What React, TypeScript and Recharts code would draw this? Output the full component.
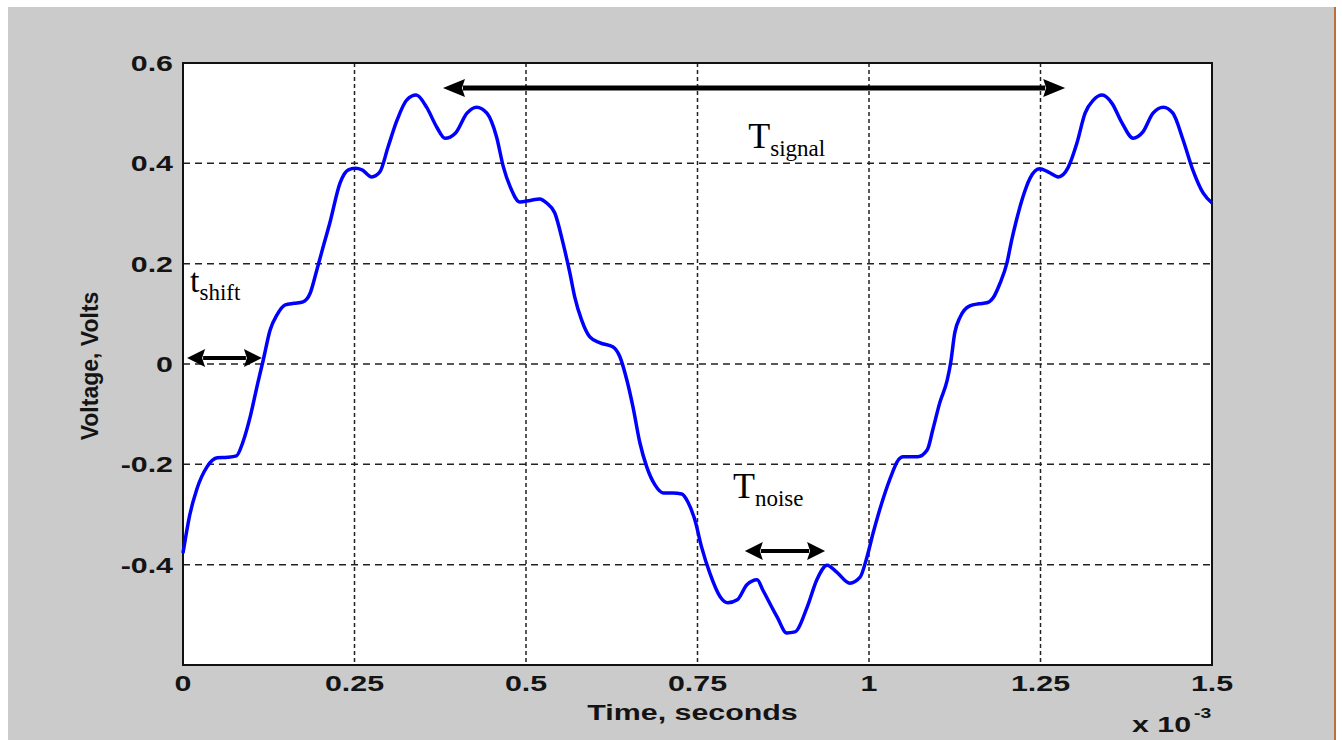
/**
 * NoisySignalChart — voltage vs time (x 10^-3 s) with signal/noise period annotations.
 * MATLAB-style plot: grey frame, white box, dashed grid, bold stretched tick labels.
 */
import {
  LineChart,
  Line,
  XAxis,
  YAxis,
  CartesianGrid,
  ReferenceArea,
  ReferenceLine,
  ReferenceDot,
  Label,
} from "recharts";

// ─── Data ─────────────────────────────────────────────────────────────────────

// time in units of 10^-3 s
const timeMs = [
  0.0, 0.01, 0.02, 0.035, 0.05, 0.065, 0.078, 0.087, 0.098, 0.109, 0.117, 0.127,
  0.137, 0.149, 0.162, 0.175, 0.185, 0.195, 0.203, 0.214, 0.229, 0.241, 0.251,
  0.261, 0.275, 0.287, 0.299, 0.312, 0.326, 0.34, 0.355, 0.37, 0.382, 0.397,
  0.414, 0.428, 0.443, 0.457, 0.467, 0.477, 0.491, 0.506, 0.52, 0.53, 0.542,
  0.554, 0.564, 0.571, 0.581, 0.593, 0.608, 0.627, 0.637, 0.647, 0.656, 0.666,
  0.676, 0.688, 0.7, 0.714, 0.727, 0.736, 0.746, 0.756, 0.768, 0.783, 0.794,
  0.808, 0.822, 0.837, 0.845, 0.866, 0.88, 0.892, 0.91, 0.924, 0.939, 0.953,
  0.972, 0.987, 0.997, 1.006, 1.02, 1.034, 1.041, 1.05, 1.071, 1.085, 1.093,
  1.103, 1.114, 1.119, 1.125, 1.133, 1.147, 1.16, 1.172, 1.181, 1.191, 1.201,
  1.208, 1.215, 1.223, 1.235, 1.249, 1.261, 1.276, 1.29, 1.303, 1.315, 1.327,
  1.34, 1.354, 1.369, 1.385, 1.399, 1.414, 1.429, 1.443, 1.458, 1.472, 1.487, 1.5,
];

const voltage = [
  -0.377, -0.3, -0.25, -0.205, -0.187, -0.186, -0.183, -0.157, -0.105, -0.038,
  0.008, 0.068, 0.098, 0.118, 0.121, 0.124, 0.14, 0.187, 0.227, 0.281, 0.361,
  0.387, 0.39, 0.387, 0.373, 0.383, 0.433, 0.486, 0.526, 0.536, 0.512, 0.472,
  0.45, 0.46, 0.5, 0.512, 0.5, 0.453, 0.393, 0.353, 0.323, 0.326, 0.329, 0.321,
  0.301, 0.241, 0.181, 0.134, 0.088, 0.054, 0.042, 0.034, 0.014, -0.032, -0.086,
  -0.157, -0.205, -0.241, -0.257, -0.257, -0.259, -0.275, -0.31, -0.365,
  -0.417, -0.464, -0.476, -0.47, -0.44, -0.43, -0.45, -0.504, -0.536, -0.534,
  -0.484, -0.43, -0.401, -0.415, -0.437, -0.425, -0.385, -0.337, -0.271,
  -0.217, -0.195, -0.185, -0.185, -0.171, -0.131, -0.078, -0.032, 0.002, 0.062,
  0.094, 0.116, 0.12, 0.122, 0.132, 0.161, 0.201, 0.247, 0.287, 0.327, 0.371,
  0.389, 0.383, 0.373, 0.391, 0.44, 0.5, 0.526, 0.536, 0.52, 0.48, 0.45, 0.462,
  0.5, 0.512, 0.5, 0.446, 0.387, 0.341, 0.321,
];

const xTicks = [0, 0.25, 0.5, 0.75, 1, 1.25, 1.5];
const yTicks = [-0.6, -0.4, -0.2, 0, 0.2, 0.4, 0.6];
const yTickLabels = ["", "-0.4", "-0.2", "0", "0.2", "0.4", "0.6"];

// double-headed arrows (data coords)
const arrows = [
  { id: "signal", x1: 0.379, x2: 1.286, y: 0.55, w: 5, head: 22, half: 9 },
  { id: "shift", x1: 0.006, x2: 0.115, y: 0.012, w: 4, head: 18, half: 9 },
  { id: "noise", x1: 0.819, x2: 0.936, y: -0.373, w: 4, head: 18, half: 9 },
];

// annotation texts (left/baseline of main letter, data coords)
const notes = [
  { id: "signal", main: "T", sub: "signal", x: 0.824, y: 0.4305, size: 36 },
  { id: "shift", main: "t", sub: "shift", x: 0.0102, y: 0.1435, size: 34 },
  { id: "noise", main: "T", sub: "noise", x: 0.8017, y: -0.267, size: 36 },
];

const chartData = timeMs.map((t, i) => ({ t, v: voltage[i] }));

// ─── Styling helpers ──────────────────────────────────────────────────────────

const SANS = "'Liberation Sans', Arial, sans-serif";
const SERIF = "'Liberation Serif', 'Times New Roman', serif";
const INK = "#141414";
const STRETCH = 1.38;

function XTick({ x, y, payload }: { x?: number; y?: number; payload?: { value: number } }) {
  return (
    <text
      transform={`translate(${x},${(y ?? 0) + 26}) scale(${STRETCH},1)`}
      textAnchor="middle"
      fontFamily={SANS}
      fontWeight="bold"
      fontSize={22}
      fill={INK}
    >
      {String(payload?.value)}
    </text>
  );
}

function YTick({ x, y, payload }: { x?: number; y?: number; payload?: { value: number } }) {
  const i = yTicks.indexOf(payload?.value as number);
  return (
    <text
      transform={`translate(${x},${(y ?? 0) + 8}) scale(${STRETCH},1)`}
      textAnchor="end"
      fontFamily={SANS}
      fontWeight="bold"
      fontSize={22}
      fill={INK}
    >
      {yTickLabels[i]}
    </text>
  );
}

function XTitle(props: any) {
  const vb = props.viewBox ?? { x: 0, y: 0, width: 0, height: 0 };
  const cx = vb.x + vb.width / 2 - 5;
  const right = vb.x + vb.width;
  return (
    <g fontFamily={SANS} fontWeight="bold" fill={INK}>
      <text transform={`translate(${cx},${vb.y + 55}) scale(${STRETCH},1)`} textAnchor="middle" fontSize={22}>
        Time, seconds
      </text>
      <text transform={`translate(${right - 80},${vb.y + 67}) scale(${STRETCH},1)`} fontSize={22}>
        x 10
      </text>
      <text transform={`translate(${right - 18},${vb.y + 53}) scale(${STRETCH},1)`} fontSize={14}>
        -3
      </text>
    </g>
  );
}

function YTitle(props: any) {
  const vb = props.viewBox ?? { x: 0, y: 0, width: 0, height: 0 };
  const cx = vb.x - 3;
  const cy = vb.y + vb.height / 2 + 2;
  return (
    <text
      transform={`translate(${cx},${cy}) rotate(-90)`}
      textAnchor="middle"
      dominantBaseline="central"
      fontFamily={SANS}
      fontWeight="bold"
      fontSize={23}
      fill={INK}
    >
      Voltage, Volts
    </text>
  );
}

function Arrow(props: any) {
  const { x1, x2, y1, w, head, half } = props;
  const y = y1;
  return (
    <g>
      <line x1={x1 + head - 2} y1={y} x2={x2 - head + 2} y2={y} stroke="#000" strokeWidth={w} />
      <polygon points={`${x1},${y} ${x1 + head},${y - half} ${x1 + head - 3},${y} ${x1 + head},${y + half}`} fill="#000" />
      <polygon points={`${x2},${y} ${x2 - head},${y - half} ${x2 - head + 3},${y} ${x2 - head},${y + half}`} fill="#000" />
    </g>
  );
}

function Note(props: any) {
  const { cx, cy, main, sub, size } = props;
  return (
    <text x={cx} y={cy} fontFamily={SERIF} fontSize={size} fill="#000">
      {main}
      <tspan fontSize={23} dy={8}>
        {sub}
      </tspan>
    </text>
  );
}

// ─── Component ────────────────────────────────────────────────────────────────

export default function App() {
  return (
    <div
      style={{
        position: "fixed",
        left: 8,
        top: 7,
        width: 1326,
        height: 733,
        background: "#cbcbcb",
        borderRight: "2px solid #b8703e",
      }}
    >
      <LineChart
        width={1326}
        height={733}
        data={chartData}
        margin={{ top: 56, right: 122, bottom: 35, left: 85 }}
      >
        <CartesianGrid
          fill="#ffffff"
          horizontal
          vertical={false}
          stroke="#222"
          strokeWidth={1.5}
          strokeDasharray="7 5"
        />
        <CartesianGrid
          horizontal={false}
          vertical
          stroke="#222"
          strokeWidth={1.5}
          strokeDasharray="4 3"
        />
        <XAxis
          dataKey="t"
          type="number"
          domain={[0, 1.5]}
          ticks={xTicks}
          axisLine={false}
          tickLine={false}
          tickSize={0}
          tickMargin={0}
          height={40}
          tick={(p: any) => <XTick {...p} />}
        >
          <Label content={XTitle} />
        </XAxis>
        <YAxis
          type="number"
          domain={[-0.6, 0.6]}
          ticks={yTicks}
          axisLine={false}
          tickLine={false}
          tickSize={0}
          tickMargin={10}
          width={90}
          tick={(p: any) => <YTick {...p} />}
        >
          <Label content={YTitle} />
        </YAxis>
        <ReferenceArea
          x1={0}
          x2={1.5}
          y1={-0.6}
          y2={0.6}
          fill="none"
          fillOpacity={0}
          stroke="#111"
          strokeWidth={2}
        />
        <Line
          type="monotone"
          dataKey="v"
          stroke="#0000ff"
          strokeWidth={3.5}
          dot={false}
          isAnimationActive={false}
        />
        {arrows.map((a) => (
          <ReferenceLine
            key={a.id}
            segment={[
              { x: a.x1, y: a.y },
              { x: a.x2, y: a.y },
            ]}
            shape={(p: any) => <Arrow {...p} w={a.w} head={a.head} half={a.half} />}
          />
        ))}
        {notes.map((n) => (
          <ReferenceDot
            key={n.id}
            x={n.x}
            y={n.y}
            r={0}
            shape={(p: any) => <Note {...p} main={n.main} sub={n.sub} size={n.size} />}
          />
        ))}
      </LineChart>
    </div>
  );
}
